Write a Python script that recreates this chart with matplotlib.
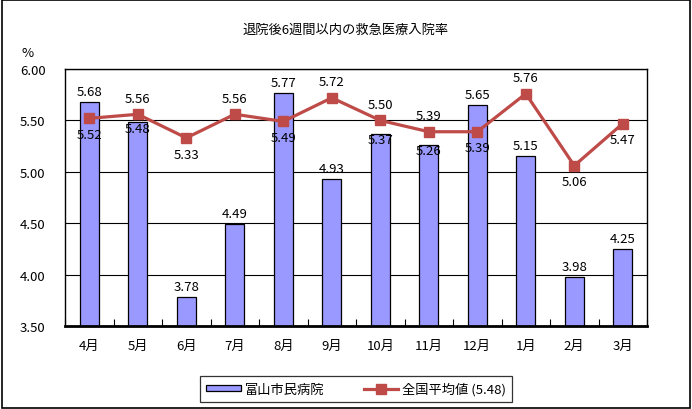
import numpy as np
import matplotlib
matplotlib.use('Agg')
import matplotlib.pyplot as plt
from matplotlib.patches import Rectangle

plt.rcParams['font.family'] = ['Noto Sans CJK JP', 'DejaVu Sans']

months = ['4月', '5月', '6月', '7月', '8月', '9月',
          '10月', '11月', '12月', '1月', '2月', '3月']
hospital = [5.68, 5.48, 3.78, 4.49, 5.77, 4.93, 5.37, 5.26, 5.65, 5.15, 3.98, 4.25]
national = [5.52, 5.56, 5.33, 5.56, 5.49, 5.72, 5.50, 5.39, 5.39, 5.76, 5.06, 5.47]

title = '退院後6週間以内の救急医療入院率'
bar_name = '富山市民病院'
line_name = '全国平均値 (5.48)'

# label placement: True = above the point / bar top
bar_above = [True, False, True, True, True, True, False, False, True, True, True, True]
line_above = [False, True, False, True, False, True, True, True, False, True, False, False]

BAR_COLOR = '#9999FF'
LINE_COLOR = '#BE4B48'

fig = plt.figure(figsize=(6.92, 4.10), dpi=100)
fig.patches.append(Rectangle((0.003, 0.003), 0.994, 0.994, transform=fig.transFigure,
                             fill=False, edgecolor='black', linewidth=1.2))
ax = fig.add_axes([0.094, 0.2024, 0.841, 0.6268])

x = np.arange(len(months))
bars = ax.bar(x, hospital, width=0.4, color=BAR_COLOR, edgecolor='black', linewidth=0.9,
              zorder=2, label=bar_name)
line, = ax.plot(x, national, color=LINE_COLOR, linewidth=2.3, marker='s', markersize=6.5,
                markeredgecolor=LINE_COLOR, zorder=3, label=line_name)

fs = 9.5
for i, v in enumerate(hospital):
    if bar_above[i]:
        ax.annotate(f'{v:.2f}', (x[i], v), xytext=(0, 3), textcoords='offset points',
                    ha='center', va='bottom', fontsize=fs, zorder=4)
    else:
        ax.annotate(f'{v:.2f}', (x[i], v), xytext=(0, 0.5), textcoords='offset points',
                    ha='center', va='top', fontsize=fs, zorder=4)
for i, v in enumerate(national):
    if line_above[i]:
        ax.annotate(f'{v:.2f}', (x[i], v), xytext=(0, 7), textcoords='offset points',
                    ha='center', va='bottom', fontsize=fs, zorder=4)
    else:
        ax.annotate(f'{v:.2f}', (x[i], v), xytext=(0, -7), textcoords='offset points',
                    ha='center', va='top', fontsize=fs, zorder=4)

ax.set_ylim(3.5, 6.0)
ax.set_xlim(-0.5, len(months) - 0.5)
ax.set_yticks(np.arange(3.5, 6.01, 0.5))
ax.set_yticklabels([f'{t:.2f}' for t in np.arange(3.5, 6.01, 0.5)], fontsize=fs)
ax.yaxis.grid(True, color='black', linewidth=0.8, zorder=0)
ax.set_axisbelow(True)
ax.tick_params(axis='y', length=0, pad=14)

ax.set_xticks(x)
ax.set_xticklabels(months, fontsize=fs)
ax.tick_params(axis='x', length=0, pad=9)
ax.set_xticks(np.arange(-0.5, len(months), 1.0), minor=True)
ax.tick_params(axis='x', which='minor', direction='in', length=5, width=0.8)

for side in ['top', 'right', 'left']:
    ax.spines[side].set_linewidth(1.0)
ax.spines['bottom'].set_linewidth(2.0)

ax.text(-0.065, 1.04, '%', transform=ax.transAxes, fontsize=fs, ha='center', va='bottom')
fig.text(0.5, 0.925, title, ha='center', va='center', fontsize=fs)

leg = ax.legend([bars, line], [bar_name, line_name], loc='center',
                bbox_to_anchor=(0.5, -0.245), ncol=2, frameon=True,
                fancybox=False, edgecolor='black', fontsize=fs, handlelength=2.6,
                handleheight=0.4, handletextpad=0.3, columnspacing=3.0, borderpad=0.45)
leg.get_frame().set_linewidth(0.9)

fig.savefig('out.png', dpi=100)
